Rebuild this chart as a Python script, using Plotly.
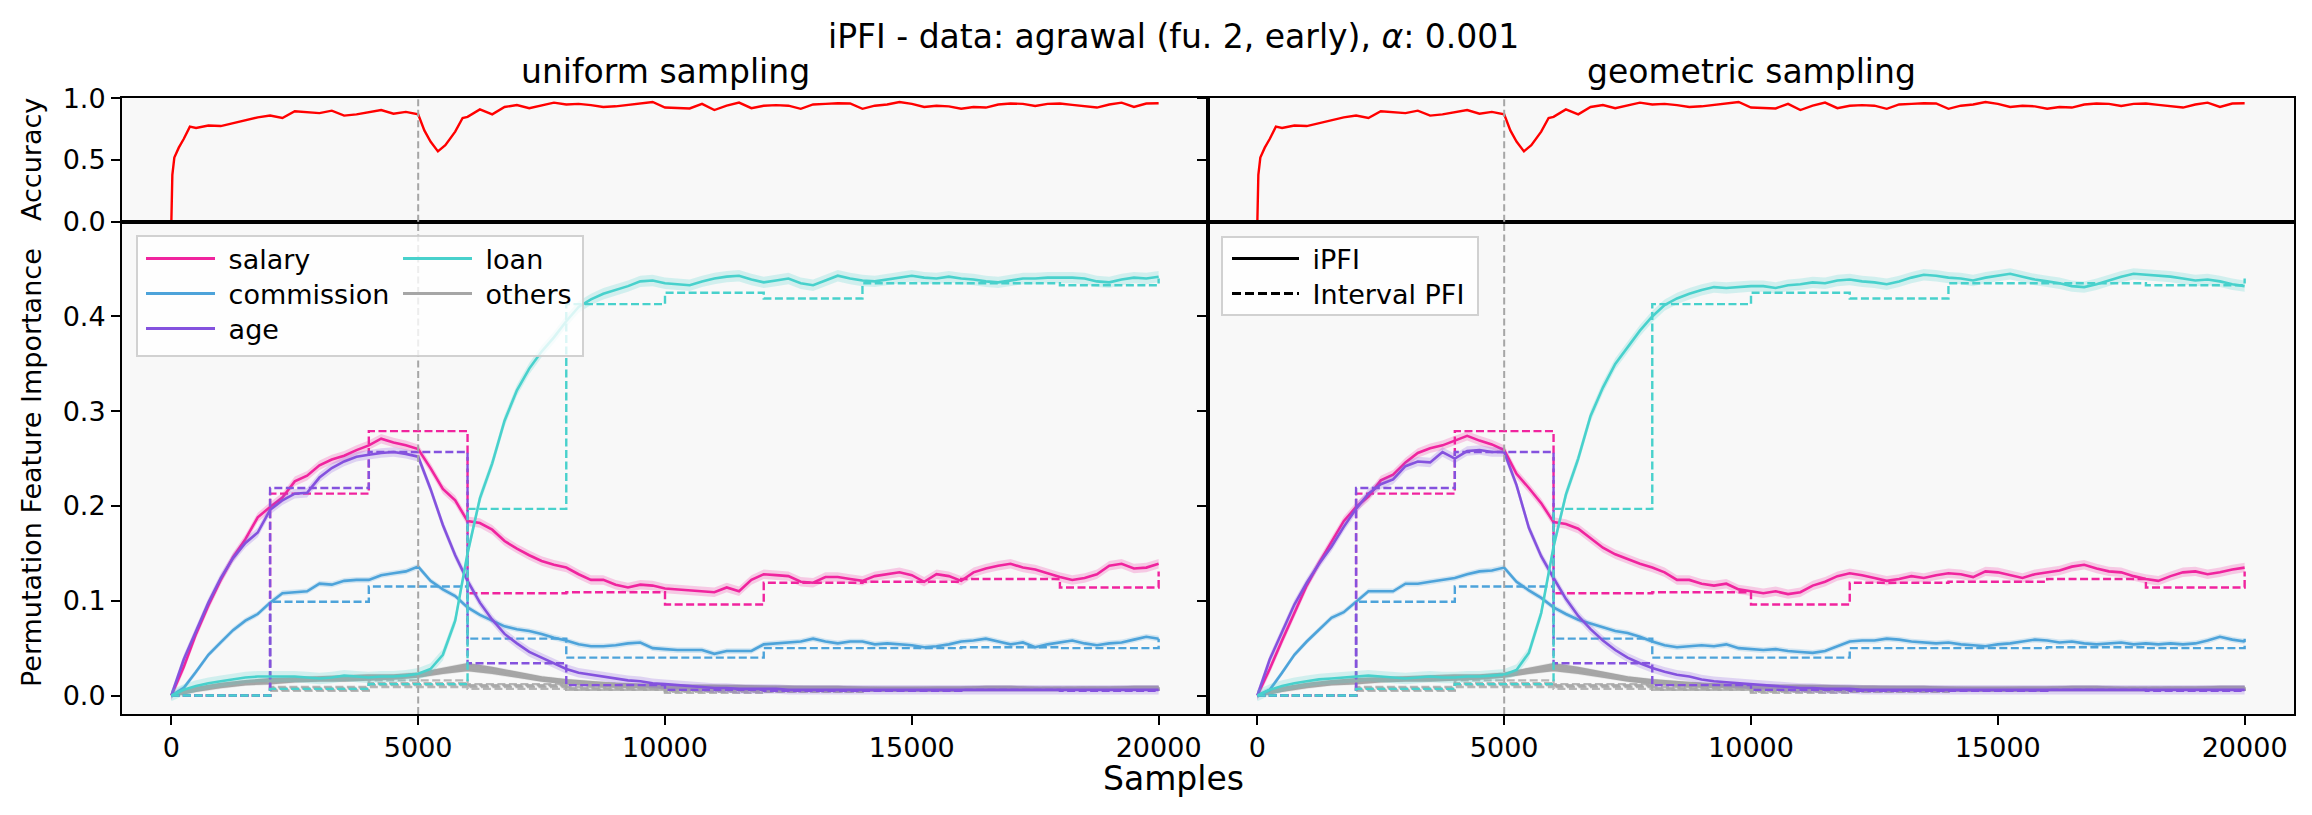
import numpy as np
import plotly.graph_objects as go

# target picture size; the page puts the figure 8 px in from the corner
W, H = 2312, 815
PAGE_MARGIN = 8
FIG_W, FIG_H = W - PAGE_MARGIN, H - PAGE_MARGIN

SAMPLES = list(range(0, 20001, 250))
OTHER_SAMPLES = list(range(0, 20001, 500))
INTERVAL_EDGES = list(range(0, 20001, 2000))

ACC_SAMPLES = ([0, 20, 60, 150, 250, 375] + list(range(500, 5001, 250))
               + [5125, 5250, 5400, 5550, 5750, 5900] + list(range(6000, 20001, 250)))
ACCURACY = [
    0.0, 0.38, 0.52, 0.60, 0.67, 0.77,
    0.76, 0.78, 0.775, 0.80, 0.82, 0.845, 0.86, 0.84, 0.895, 0.885,
    0.88, 0.90, 0.86, 0.87, 0.89, 0.905, 0.875, 0.89, 0.87,
    0.74, 0.65, 0.57, 0.62, 0.73, 0.84,
    0.85, 0.91, 0.87, 0.93, 0.945, 0.92, 0.94, 0.965,
    0.95, 0.955, 0.945, 0.93, 0.935, 0.945, 0.96, 0.97,
    0.925, 0.92, 0.918, 0.955, 0.905, 0.94, 0.965, 0.92,
    0.94, 0.945, 0.94, 0.915, 0.95, 0.955, 0.96, 0.958,
    0.915, 0.94, 0.95, 0.97, 0.955, 0.93, 0.94, 0.935,
    0.915, 0.93, 0.925, 0.95, 0.958, 0.955, 0.938, 0.955,
    0.958, 0.947, 0.935, 0.925, 0.95, 0.965, 0.93, 0.958,
    0.96,
]

# iPFI, uniform sampling
SALARY_U = [
    0.000, 0.030, 0.065, 0.095, 0.122, 0.146, 0.165, 0.188,
    0.199, 0.209, 0.226, 0.232, 0.243, 0.249, 0.253, 0.259,
    0.264, 0.271, 0.267, 0.264, 0.260, 0.240, 0.218, 0.206,
    0.184, 0.182, 0.175, 0.163, 0.155, 0.148, 0.142, 0.138,
    0.135, 0.128, 0.122, 0.122, 0.117, 0.114, 0.117, 0.116,
    0.113, 0.112, 0.111, 0.110, 0.109, 0.114, 0.110, 0.122,
    0.128, 0.127, 0.126, 0.120, 0.119, 0.125, 0.125, 0.123,
    0.121, 0.126, 0.128, 0.130, 0.127, 0.120, 0.128, 0.126,
    0.121, 0.130, 0.134, 0.137, 0.139, 0.135, 0.133, 0.129,
    0.125, 0.122, 0.124, 0.128, 0.137, 0.139, 0.134, 0.135,
    0.139,
]
COMMISSION_U = [
    0.000, 0.008, 0.025, 0.043, 0.056, 0.069, 0.079, 0.086,
    0.098, 0.108, 0.109, 0.110, 0.118, 0.117, 0.121, 0.122,
    0.122, 0.127, 0.129, 0.131, 0.136, 0.121, 0.112, 0.105,
    0.093, 0.085, 0.079, 0.073, 0.070, 0.068, 0.065, 0.061,
    0.058, 0.054, 0.052, 0.052, 0.053, 0.055, 0.056, 0.050,
    0.049, 0.048, 0.048, 0.048, 0.044, 0.047, 0.047, 0.047,
    0.054, 0.055, 0.056, 0.057, 0.060, 0.057, 0.055, 0.057,
    0.057, 0.054, 0.055, 0.054, 0.053, 0.051, 0.052, 0.054,
    0.057, 0.058, 0.060, 0.057, 0.054, 0.056, 0.051, 0.054,
    0.056, 0.058, 0.055, 0.053, 0.055, 0.056, 0.059, 0.062,
    0.060,
]
AGE_U = [
    0.000, 0.038, 0.068, 0.098, 0.124, 0.145, 0.161, 0.172,
    0.196, 0.206, 0.213, 0.214, 0.230, 0.240, 0.247, 0.252,
    0.254, 0.256, 0.257, 0.255, 0.252, 0.218, 0.180, 0.148,
    0.121, 0.098, 0.080, 0.065, 0.055, 0.046, 0.040, 0.034,
    0.028, 0.024, 0.022, 0.020, 0.018, 0.016, 0.015, 0.013,
    0.012, 0.011, 0.010, 0.009, 0.008, 0.008, 0.007, 0.007,
    0.007, 0.007, 0.006, 0.006, 0.006, 0.006, 0.006, 0.006,
    0.006, 0.006, 0.006, 0.006, 0.006, 0.006, 0.006, 0.006,
    0.006, 0.006, 0.006, 0.006, 0.006, 0.006, 0.006, 0.006,
    0.006, 0.006, 0.006, 0.006, 0.006, 0.006, 0.006, 0.006,
    0.006,
]
LOAN_U = [
    0.000, 0.006, 0.010, 0.013, 0.015, 0.017, 0.019, 0.020,
    0.020, 0.020, 0.020, 0.019, 0.018, 0.019, 0.021, 0.020,
    0.019, 0.020, 0.020, 0.021, 0.023, 0.028, 0.043, 0.079,
    0.150, 0.208, 0.245, 0.290, 0.322, 0.345, 0.363, 0.378,
    0.395, 0.410, 0.418, 0.424, 0.428, 0.432, 0.437, 0.438,
    0.435, 0.434, 0.433, 0.437, 0.440, 0.442, 0.443, 0.439,
    0.436, 0.438, 0.440, 0.435, 0.433, 0.438, 0.443, 0.440,
    0.438, 0.437, 0.439, 0.441, 0.443, 0.441, 0.440, 0.442,
    0.440, 0.439, 0.437, 0.436, 0.438, 0.440, 0.440, 0.441,
    0.441, 0.441, 0.440, 0.437, 0.436, 0.439, 0.441, 0.440,
    0.442,
]

# iPFI, geometric sampling
SALARY_G = [
    0.000, 0.028, 0.058, 0.087, 0.116, 0.140, 0.162, 0.184,
    0.199, 0.210, 0.227, 0.233, 0.246, 0.256, 0.261, 0.264,
    0.269, 0.274, 0.269, 0.265, 0.259, 0.234, 0.219, 0.203,
    0.183, 0.181, 0.176, 0.166, 0.156, 0.149, 0.144, 0.139,
    0.135, 0.130, 0.122, 0.122, 0.118, 0.116, 0.118, 0.112,
    0.110, 0.108, 0.110, 0.107, 0.109, 0.116, 0.120, 0.126,
    0.129, 0.127, 0.124, 0.121, 0.123, 0.126, 0.124, 0.127,
    0.129, 0.128, 0.125, 0.131, 0.130, 0.127, 0.124, 0.128,
    0.130, 0.132, 0.136, 0.138, 0.134, 0.131, 0.130, 0.126,
    0.123, 0.121, 0.126, 0.130, 0.131, 0.128, 0.130, 0.133,
    0.135,
]
COMMISSION_G = [
    0.000, 0.006, 0.024, 0.043, 0.057, 0.070, 0.082, 0.088,
    0.099, 0.110, 0.110, 0.110, 0.118, 0.118, 0.120, 0.122,
    0.124, 0.128, 0.131, 0.132, 0.135, 0.120, 0.111, 0.103,
    0.093, 0.086, 0.080, 0.076, 0.072, 0.068, 0.066, 0.062,
    0.057, 0.053, 0.051, 0.052, 0.053, 0.052, 0.054, 0.050,
    0.049, 0.048, 0.049, 0.047, 0.046, 0.045, 0.047, 0.052,
    0.057, 0.058, 0.058, 0.060, 0.059, 0.057, 0.056, 0.055,
    0.056, 0.054, 0.053, 0.052, 0.054, 0.055, 0.057, 0.059,
    0.058, 0.056, 0.057, 0.055, 0.054, 0.055, 0.056, 0.054,
    0.055, 0.054, 0.055, 0.054, 0.055, 0.058, 0.062, 0.059,
    0.057,
]
AGE_G = [
    0.000, 0.038, 0.067, 0.096, 0.119, 0.139, 0.157, 0.178,
    0.197, 0.213, 0.223, 0.228, 0.242, 0.247, 0.246, 0.257,
    0.250, 0.258, 0.259, 0.257, 0.257, 0.222, 0.177, 0.147,
    0.124, 0.102, 0.084, 0.070, 0.058, 0.048, 0.040, 0.034,
    0.029, 0.025, 0.022, 0.020, 0.017, 0.015, 0.014, 0.013,
    0.012, 0.011, 0.010, 0.009, 0.008, 0.008, 0.007, 0.007,
    0.007, 0.006, 0.006, 0.006, 0.006, 0.006, 0.006, 0.006,
    0.006, 0.006, 0.006, 0.006, 0.006, 0.006, 0.006, 0.006,
    0.006, 0.006, 0.006, 0.006, 0.006, 0.006, 0.006, 0.006,
    0.006, 0.006, 0.006, 0.006, 0.006, 0.006, 0.006, 0.006,
    0.006,
]
LOAN_G = [
    0.000, 0.006, 0.010, 0.013, 0.015, 0.017, 0.018, 0.019,
    0.020, 0.021, 0.020, 0.019, 0.018, 0.019, 0.020, 0.019,
    0.019, 0.020, 0.020, 0.021, 0.022, 0.027, 0.045, 0.087,
    0.157, 0.212, 0.250, 0.295, 0.325, 0.350, 0.368, 0.385,
    0.400, 0.412, 0.419, 0.424, 0.428, 0.431, 0.430, 0.431,
    0.432, 0.432, 0.430, 0.433, 0.434, 0.436, 0.435, 0.438,
    0.439, 0.437, 0.436, 0.434, 0.437, 0.441, 0.444, 0.443,
    0.441, 0.440, 0.438, 0.441, 0.443, 0.445, 0.442, 0.439,
    0.437, 0.435, 0.432, 0.431, 0.434, 0.438, 0.442, 0.445,
    0.444, 0.443, 0.442, 0.440, 0.438, 0.439, 0.437, 0.434,
    0.432,
]

# the five remaining agrawal features (same in both panels at this scale)
ELEVEL = [0, 0.007, 0.011, 0.014, 0.016, 0.017, 0.018, 0.019, 0.019, 0.020, 0.022,
          0.027, 0.031, 0.027, 0.022, 0.018, 0.015, 0.013, 0.012, 0.011, 0.010,
          0.010, 0.010, 0.009, 0.009, 0.009, 0.008, 0.008, 0.008, 0.008, 0.008,
          0.008, 0.008, 0.008, 0.008, 0.008, 0.008, 0.008, 0.008, 0.008, 0.008]
CAR = [0, 0.006, 0.010, 0.013, 0.015, 0.016, 0.017, 0.017, 0.018, 0.019, 0.021,
       0.025, 0.029, 0.026, 0.021, 0.017, 0.014, 0.012, 0.011, 0.010, 0.009,
       0.009, 0.009, 0.009, 0.008, 0.008, 0.008, 0.007, 0.007, 0.007, 0.007,
       0.007, 0.007, 0.007, 0.007, 0.007, 0.007, 0.007, 0.007, 0.007, 0.007]
ZIPCODE = [0, 0.008, 0.012, 0.015, 0.017, 0.018, 0.019, 0.020, 0.021, 0.021, 0.023,
           0.028, 0.033, 0.029, 0.024, 0.019, 0.016, 0.014, 0.012, 0.011, 0.011,
           0.010, 0.010, 0.010, 0.009, 0.009, 0.009, 0.009, 0.008, 0.008, 0.008,
           0.008, 0.008, 0.009, 0.009, 0.008, 0.008, 0.008, 0.008, 0.009, 0.009]
HVALUE = [0, 0.005, 0.009, 0.012, 0.013, 0.015, 0.016, 0.016, 0.017, 0.018, 0.020,
          0.024, 0.027, 0.024, 0.020, 0.016, 0.013, 0.011, 0.010, 0.009, 0.008,
          0.008, 0.008, 0.008, 0.007, 0.007, 0.007, 0.007, 0.007, 0.006, 0.006,
          0.006, 0.006, 0.006, 0.006, 0.006, 0.006, 0.007, 0.007, 0.007, 0.007]
HYEARS = [0, 0.006, 0.011, 0.013, 0.016, 0.017, 0.018, 0.018, 0.019, 0.020, 0.022,
          0.026, 0.030, 0.027, 0.023, 0.018, 0.015, 0.013, 0.011, 0.010, 0.010,
          0.009, 0.009, 0.009, 0.009, 0.008, 0.008, 0.008, 0.008, 0.007, 0.007,
          0.008, 0.008, 0.008, 0.007, 0.007, 0.007, 0.008, 0.008, 0.008, 0.008]

# interval PFI per 2000-sample window, last value = at the end of the stream
SALARY_INT = [0.000, 0.213, 0.279, 0.108, 0.109, 0.096, 0.119, 0.120, 0.123, 0.114, 0.131]
COMMISSION_INT = [0.000, 0.099, 0.115, 0.060, 0.040, 0.040, 0.050, 0.050, 0.051, 0.050, 0.060]
AGE_INT = [0.000, 0.219, 0.257, 0.034, 0.011, 0.006, 0.005, 0.005, 0.006, 0.005, 0.006]
LOAN_INT = [0.000, 0.007, 0.012, 0.197, 0.413, 0.425, 0.419, 0.435, 0.435, 0.433, 0.440]
ELEVEL_INT = [0, 0.008, 0.013, 0.011, 0.008, 0.005, 0.005, 0.006, 0.007, 0.007, 0.008]
CAR_INT = [0, 0.006, 0.011, 0.009, 0.006, 0.004, 0.004, 0.006, 0.006, 0.006, 0.007]
ZIPCODE_INT = [0, 0.009, 0.016, 0.012, 0.009, 0.006, 0.006, 0.007, 0.008, 0.008, 0.009]
HVALUE_INT = [0, 0.005, 0.009, 0.007, 0.006, 0.003, 0.004, 0.005, 0.006, 0.006, 0.007]
HYEARS_INT = [0, 0.007, 0.012, 0.010, 0.007, 0.005, 0.005, 0.006, 0.007, 0.007, 0.008]

X_TICKS = [0, 5000, 10000, 15000, 20000]
DRIFT_AT = 5000

COLORS = {"salary": "#f0249e", "commission": "#4da3da", "age": "#8452de",
          "loan": "#48d1cc", "others": "#a6a6a6"}
BAND = {"salary": 0.005, "commission": 0.003, "age": 0.005, "loan": 0.006, "others": 0.002}
FONT = "DejaVu Sans"
NBSP = "\u00a0"  # widens the gap between legend handle and label a little


def rgba(hex_color, a):
    h = hex_color.lstrip("#")
    return f"rgba({int(h[0:2], 16)},{int(h[2:4], 16)},{int(h[4:6], 16)},{a})"


# positions below are written in screen pixels of the target picture
def px_x(p):
    return (p - PAGE_MARGIN) / FIG_W


def px_y(p):
    return 1 - (p - PAGE_MARGIN) / FIG_H


def add_feature(fig, xs, ys, interval, key, xa, ya):
    col = COLORS[key]
    ys = np.array(ys)
    fig.add_trace(go.Scatter(x=xs, y=ys + BAND[key], mode="lines", line=dict(width=0),
                             hoverinfo="skip", showlegend=False, xaxis=xa, yaxis=ya))
    fig.add_trace(go.Scatter(x=xs, y=ys - BAND[key], mode="lines", line=dict(width=0),
                             fill="tonexty", fillcolor=rgba(col, 0.22),
                             hoverinfo="skip", showlegend=False, xaxis=xa, yaxis=ya))
    fig.add_trace(go.Scatter(x=INTERVAL_EDGES, y=interval, mode="lines", line_shape="hv",
                             line=dict(color=rgba(col, 0.8) if key == "others" else col,
                                       width=2.4, dash="8px,3.5px"),
                             showlegend=False, xaxis=xa, yaxis=ya))
    fig.add_trace(go.Scatter(x=xs, y=ys, mode="lines", line=dict(color=col, width=2.6),
                             showlegend=False, xaxis=xa, yaxis=ya))


fig = go.Figure()

others = [(ELEVEL, ELEVEL_INT), (CAR, CAR_INT), (ZIPCODE, ZIPCODE_INT),
          (HVALUE, HVALUE_INT), (HYEARS, HYEARS_INT)]
panels = [
    ("x", "y", "x3", "y3", SALARY_U, COMMISSION_U, AGE_U, LOAN_U),
    ("x2", "y2", "x4", "y4", SALARY_G, COMMISSION_G, AGE_G, LOAN_G),
]
for xt, yt, xb, yb, sal, com, age, loan in panels:
    fig.add_trace(go.Scatter(x=ACC_SAMPLES, y=ACCURACY, mode="lines",
                             line=dict(color="#ff0000", width=2.4),
                             showlegend=False, xaxis=xt, yaxis=yt))
    for vals, ints in others:
        add_feature(fig, OTHER_SAMPLES, vals, ints, "others", xb, yb)
    add_feature(fig, SAMPLES, sal, SALARY_INT, "salary", xb, yb)
    add_feature(fig, SAMPLES, com, COMMISSION_INT, "commission", xb, yb)
    add_feature(fig, SAMPLES, age, AGE_INT, "age", xb, yb)
    add_feature(fig, SAMPLES, loan, LOAN_INT, "loan", xb, yb)

# legend entries: one small legend per row so the rows sit like the reference
# (name, colour, dash, legend id, handle start x, row centre y, handle width)
LEGEND_ROWS = [
    ("salary", COLORS["salary"], "solid", "legend", 141, 259, 69),
    ("commission", COLORS["commission"], "solid", "legend2", 141, 294, 69),
    ("age", COLORS["age"], "solid", "legend3", 141, 329, 69),
    ("loan", COLORS["loan"], "solid", "legend4", 398, 259, 69),
    ("others", COLORS["others"], "solid", "legend5", 398, 294, 69),
    ("iPFI", "black", "solid", "legend6", 1227, 259, 67),
    ("Interval PFI", "black", "9px,4px", "legend7", 1227, 294, 67),
]
legend_layout = {}
for name, col, dash, lg, lx, ly, iw in LEGEND_ROWS:
    xb = "x4" if lg in ("legend6", "legend7") else "x3"
    yb = "y4" if xb == "x4" else "y3"
    fig.add_trace(go.Scatter(x=[None], y=[None], mode="lines", name=NBSP + name,
                             line=dict(color=col, width=3, dash=dash),
                             legend=lg, xaxis=xb, yaxis=yb))
    legend_layout[lg] = dict(x=px_x(lx), y=px_y(ly), xanchor="left", yanchor="middle",
                             bgcolor="rgba(0,0,0,0)", borderwidth=0, itemwidth=iw,
                             font=dict(family=FONT, size=27, color="black"))

LEFT = [px_x(122), px_x(1208)]
RIGHT = [px_x(1208), px_x(2294)]
TOP = [px_y(221.7), px_y(98.3)]
BOTTOM = [px_y(714), px_y(221.7)]

axis_common = dict(showline=True, linecolor="black", linewidth=2, mirror=True,
                   showgrid=False, zeroline=False, ticklen=9, tickwidth=2, automargin=False,
                   tickcolor="black", tickfont=dict(family=FONT, size=27, color="black"))
x_ticks = dict(tickvals=X_TICKS, ticktext=[str(v) for v in X_TICKS], range=[-1000, 21000])

fig.update_layout(
    width=FIG_W, height=FIG_H,
    margin=dict(l=0, r=0, t=0, b=0, pad=0, autoexpand=False),
    paper_bgcolor="white", plot_bgcolor="#f8f8f8",
    font=dict(family=FONT, color="black"),
    xaxis=dict(domain=LEFT, anchor="y", ticks="", showticklabels=False, **x_ticks, **axis_common),
    xaxis2=dict(domain=RIGHT, anchor="y2", ticks="", showticklabels=False, **x_ticks, **axis_common),
    xaxis3=dict(domain=LEFT, anchor="y3", ticks="outside", **x_ticks, **axis_common),
    xaxis4=dict(domain=RIGHT, anchor="y4", ticks="outside", **x_ticks, **axis_common),
    yaxis=dict(domain=TOP, anchor="x", range=[0, 1], tickvals=[0, 0.5, 1],
               ticktext=["0.0", "0.5", "1.0"], ticks="outside", **axis_common),
    yaxis2=dict(domain=TOP, anchor="x2", range=[0, 1], tickvals=[0, 0.5, 1],
                ticks="outside", showticklabels=False, **axis_common),
    yaxis3=dict(domain=BOTTOM, anchor="x3", range=[-0.0195, 0.5],
                tickvals=[0, 0.1, 0.2, 0.3, 0.4],
                ticktext=["0.0", "0.1", "0.2", "0.3", "0.4"], ticks="outside", **axis_common),
    yaxis4=dict(domain=BOTTOM, anchor="x4", range=[-0.0195, 0.5],
                tickvals=[0, 0.1, 0.2, 0.3, 0.4], ticks="outside",
                showticklabels=False, **axis_common),
    **legend_layout,
)

shapes = []
for xa, ya in [("x", "y"), ("x2", "y2"), ("x3", "y3"), ("x4", "y4")]:
    shapes.append(dict(type="line", xref=xa, yref=f"{ya} domain", x0=DRIFT_AT, x1=DRIFT_AT,
                       y0=0, y1=1, layer="above",
                       line=dict(color="#a6a6a6", width=2, dash="7px,3.5px")))
for x0, x1, y0, y1 in [(137, 583, 236, 356), (1222, 1478, 237, 315)]:
    shapes.append(dict(type="rect", xref="paper", yref="paper",
                       x0=px_x(x0), x1=px_x(x1), y0=px_y(y1), y1=px_y(y0), layer="above",
                       fillcolor="rgba(255,255,255,0.8)",
                       line=dict(color="rgba(204,204,204,0.9)", width=2)))
fig.update_layout(shapes=shapes)

annotations = [
    dict(text="iPFI - data: agrawal (fu. 2, early), <i>α</i>: 0.001", x=px_x(1173), y=px_y(37),
         font=dict(size=33)),
    dict(text="uniform sampling", x=px_x(665), y=px_y(72), font=dict(size=33)),
    dict(text="geometric sampling", x=px_x(1751), y=px_y(72), font=dict(size=33)),
    dict(text="Samples", x=px_x(1173), y=px_y(778), font=dict(size=33)),
    dict(text="Accuracy", x=px_x(31), y=px_y(160), textangle=-90, font=dict(size=27)),
    dict(text="Permutation Feature Importance", x=px_x(31), y=px_y(468), textangle=-90,
         font=dict(size=27)),
]
for a in annotations:
    a.update(xref="paper", yref="paper", showarrow=False, xanchor="center", yanchor="middle")
    a["font"].update(family=FONT, color="black")
fig.update_layout(annotations=annotations)

fig.write_html("out.html")
